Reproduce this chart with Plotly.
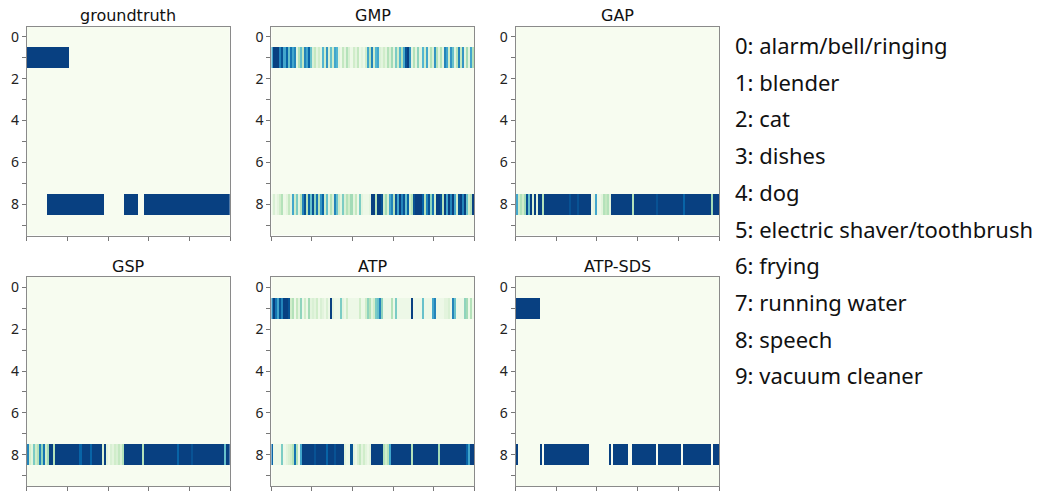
import numpy as np
import plotly.graph_objects as go

# Sound event classes (rows of every activity map)
CLASSES = [
    "alarm/bell/ringing", "blender", "cat", "dishes", "dog",
    "electric shaver/toothbrush", "frying", "running water", "speech",
    "vacuum cleaner",
]
N_FRAMES = 100
ROW_TICKS = [0, 1, 2, 3, 4, 5, 6, 7, 8, 9]
ROW_TICK_TEXT = ["0", "", "2", "", "4", "", "6", "", "8", ""]

# Reference labels as active segments: (class index, first frame, last frame)
groundtruth_segments = [(1, 0, 20), (8, 10, 37), (8, 48, 54), (8, 58, 99)]
atp_sds_segments = [(1, 0, 11), (8, 0, 0), (8, 12, 12), (8, 14, 35), (8, 46, 46),
                    (8, 48, 54), (8, 57, 68), (8, 70, 80), (8, 82, 95), (8, 97, 99)]

# Frame-wise class probabilities of the pooling models
gmp_blender = [0.6, 0.9, 0.95, 0.9, 0.7, 0.85, 0.6, 0.8, 0.5, 0.75,
               0.6, 0.7, 0.1, 0.3, 0.5, 0.25, 0.7, 0.6, 0.8, 0.5,
               0.15, 0.25, 0.1, 0.2, 0.1, 0.55, 0.2, 0.65, 0.15, 0.5,
               0.2, 0.6, 0.55, 0.1, 0.05, 0.25, 0.1, 0.3, 0.15, 0.05,
               0.2, 0.1, 0.25, 0.05, 0.1, 0.05, 0.2, 0.6, 0.3, 0.7,
               0.2, 0.55, 0.6, 0.15, 0.1, 0.2, 0.1, 0.3, 0.15, 0.35,
               0.1, 0.45, 0.2, 0.55, 0.3, 0.6, 0.85, 0.9, 0.65, 0.1,
               0.3, 0.1, 0.4, 0.1, 0.55, 0.2, 0.6, 0.1, 0.3, 0.15,
               0.65, 0.3, 0.1, 0.3, 0.1, 0.7, 0.6, 0.2, 0.65, 0.5,
               0.1, 0.3, 0.7, 0.25, 0.65, 0.1, 0.35, 0.1, 0.6, 0.3]
gmp_speech = [0.05, 0.15, 0.05, 0.1, 0.2, 0.3, 0.05, 0.1, 0.25, 0.1,
              0.6, 0.2, 0.45, 0.1, 0.3, 0.7, 0.85, 0.3, 0.8, 0.5,
              0.85, 0.4, 0.75, 0.3, 0.65, 0.8, 0.2, 0.5, 0.1, 0.3,
              0.15, 0.7, 0.5, 0.2, 0.1, 0.45, 0.15, 0.3, 0.2, 0.35,
              0.1, 0.25, 0.05, 0.45, 0.1, 0.05, 0.05, 0.05, 0.1, 0.95,
              0.95, 0.3, 0.9, 0.95, 0.85, 0.2, 0.35, 0.15, 0.6, 0.7,
              0.3, 0.85, 0.6, 0.9, 0.7, 0.85, 0.5, 0.8, 0.2, 0.3,
              0.85, 0.95, 0.9, 0.95, 0.8, 0.3, 0.7, 0.85, 0.4, 0.75,
              0.2, 0.9, 0.95, 0.85, 0.3, 0.9, 0.6, 0.9, 0.7, 0.95,
              0.6, 0.2, 0.85, 0.95, 0.7, 0.9, 0.5, 0.2, 0.3, 0.95]
gap_speech = [0.6, 0.2, 0.3, 0.2, 0.35, 0.85, 0.5, 0.95, 0.15, 0.9,
              0.1, 0.95, 0.95, 0.3, 0.95, 0.95, 0.95, 0.95, 0.95, 0.95,
              0.95, 0.95, 0.95, 0.95, 0.95, 0.95, 0.85, 0.95, 0.95, 0.95,
              0.85, 0.95, 0.95, 0.95, 0.95, 0.95, 0.95, 0.05, 0.1, 0.6,
              0.05, 0.05, 0.1, 0.3, 0.25, 0.3, 0.1, 0.95, 0.95, 0.95,
              0.95, 0.95, 0.95, 0.95, 0.95, 0.95, 0.95, 0.3, 0.95, 0.95,
              0.95, 0.95, 0.95, 0.95, 0.95, 0.95, 0.95, 0.95, 0.95, 0.85,
              0.95, 0.95, 0.95, 0.95, 0.95, 0.95, 0.95, 0.95, 0.95, 0.95,
              0.95, 0.95, 0.8, 0.95, 0.95, 0.95, 0.95, 0.95, 0.95, 0.95,
              0.95, 0.95, 0.95, 0.95, 0.95, 0.95, 0.35, 0.95, 0.95, 0.95]
gsp_speech = [0.7, 0.2, 0.1, 0.45, 0.2, 0.3, 0.7, 0.4, 0.75, 0.2,
              0.35, 0.95, 0.9, 0.3, 0.95, 0.95, 0.95, 0.95, 0.95, 0.95,
              0.95, 0.95, 0.95, 0.95, 0.95, 0.95, 0.8, 0.95, 0.95, 0.95,
              0.95, 0.8, 0.95, 0.95, 0.95, 0.95, 0.95, 0.15, 0.9, 0.1,
              0.05, 0.15, 0.1, 0.2, 0.15, 0.25, 0.15, 0.3, 0.95, 0.95,
              0.95, 0.95, 0.95, 0.95, 0.95, 0.95, 0.95, 0.3, 0.95, 0.95,
              0.95, 0.95, 0.95, 0.95, 0.95, 0.95, 0.95, 0.95, 0.95, 0.95,
              0.95, 0.95, 0.95, 0.95, 0.8, 0.95, 0.95, 0.95, 0.95, 0.95,
              0.95, 0.85, 0.95, 0.95, 0.95, 0.95, 0.95, 0.95, 0.95, 0.95,
              0.95, 0.95, 0.95, 0.95, 0.95, 0.95, 0.95, 0.5, 0.95, 0.95]
atp_blender = [0.7, 0.9, 0.75, 0.6, 0.85, 0.7, 0.9, 0.95, 0.85, 0.2,
               0.3, 0.05, 0.25, 0.1, 0.4, 0.05, 0.2, 0.05, 0.35, 0.1,
               0.15, 0.1, 0.2, 0.05, 0.15, 0.1, 0.05, 0.15, 0.05, 0.95,
               0.1, 0.05, 0.05, 0.05, 0.45, 0.1, 0.05, 0.2, 0.05, 0.05,
               0.05, 0.05, 0.05, 0.2, 0.05, 0.05, 0.2, 0.4, 0.3, 0.1,
               0.2, 0.45, 0.5, 0.7, 0.4, 0.05, 0.05, 0.05, 0.05, 0.3,
               0.05, 0.45, 0.05, 0.05, 0.05, 0.05, 0.05, 0.05, 0.05, 0.95,
               0.05, 0.05, 0.05, 0.05, 0.5, 0.05, 0.05, 0.05, 0.05, 0.6,
               0.7, 0.05, 0.05, 0.05, 0.05, 0.1, 0.1, 0.15, 0.05, 0.7,
               0.5, 0.05, 0.05, 0.05, 0.05, 0.4, 0.35, 0.05, 0.3, 0.05]
atp_speech = [0.8, 0.05, 0.05, 0.05, 0.05, 0.45, 0.05, 0.1, 0.15, 0.2,
              0.3, 0.75, 0.3, 0.05, 0.6, 0.95, 0.9, 0.95, 0.95, 0.95,
              0.95, 0.85, 0.95, 0.95, 0.95, 0.95, 0.95, 0.8, 0.95, 0.95,
              0.95, 0.85, 0.95, 0.95, 0.95, 0.95, 0.1, 0.05, 0.05, 0.85,
              0.1, 0.05, 0.15, 0.25, 0.1, 0.2, 0.1, 0.05, 0.1, 0.95,
              0.95, 0.95, 0.95, 0.95, 0.95, 0.3, 0.2, 0.3, 0.6, 0.95,
              0.95, 0.95, 0.95, 0.95, 0.95, 0.95, 0.95, 0.95, 0.95, 0.3,
              0.95, 0.95, 0.95, 0.95, 0.95, 0.95, 0.95, 0.95, 0.95, 0.95,
              0.95, 0.95, 0.35, 0.95, 0.95, 0.95, 0.95, 0.95, 0.95, 0.95,
              0.95, 0.95, 0.95, 0.95, 0.95, 0.95, 0.8, 0.6, 0.95, 0.95]


def from_segments(segments):
    grid = np.zeros((len(CLASSES), N_FRAMES))
    for cls, start, end in segments:
        grid[cls, start:end + 1] = 1.0
    return grid


def from_rows(rows):
    grid = np.zeros((len(CLASSES), N_FRAMES))
    for cls, values in rows.items():
        grid[cls, :] = values
    return grid


panels = [
    ("groundtruth", from_segments(groundtruth_segments)),
    ("GMP", from_rows({1: gmp_blender, 8: gmp_speech})),
    ("GAP", from_rows({8: gap_speech})),
    ("GSP", from_rows({8: gsp_speech})),
    ("ATP", from_rows({1: atp_blender, 8: atp_speech})),
    ("ATP-SDS", from_segments(atp_sds_segments)),
]

W, H = 1040, 494
col_px = [(26.7, 230.0), (271.3, 474.3), (515.5, 719.0)]
row_px = [(26.5, 235.5), (277.0, 486.0)]
title_px = [15.0, 266.5]

fig = go.Figure()
annotations = []
layout_axes = {}
for i, (name, grid) in enumerate(panels):
    r, c = divmod(i, 3)
    ax = "" if i == 0 else str(i + 1)
    x0, x1 = col_px[c]
    y0, y1 = row_px[r]
    fig.add_trace(go.Heatmap(
        z=grid, x=np.arange(N_FRAMES), y=np.arange(len(CLASSES)),
        colorscale="GnBu", zmin=0, zmax=0.9, showscale=False,
        xaxis="x" + ax, yaxis="y" + ax, hoverinfo="skip",
    ))
    layout_axes["xaxis" + ax] = dict(
        domain=[x0 / W, x1 / W], anchor="y" + ax,
        range=[-0.5, N_FRAMES - 0.5],
        tickvals=[-0.5 + k * N_FRAMES / 5 for k in range(6)],
        showticklabels=False, ticks="outside", ticklen=4, tickcolor="#777",
        showline=True, mirror=True, linecolor="#8a8a8a", linewidth=1,
        showgrid=False, zeroline=False, fixedrange=True,
    )
    layout_axes["yaxis" + ax] = dict(
        domain=[1 - y1 / H, 1 - y0 / H], anchor="x" + ax,
        range=[len(CLASSES) - 0.5, -0.5],
        tickvals=ROW_TICKS, ticktext=ROW_TICK_TEXT,
        ticks="outside", ticklen=4, tickcolor="#777",
        tickfont=dict(family="Noto Sans", size=14, color="#222"),
        showline=True, mirror=True, linecolor="#8a8a8a", linewidth=1,
        showgrid=False, zeroline=False, fixedrange=True,
    )
    annotations.append(dict(
        text=name, x=(x0 + x1) / 2 / W, y=1 - title_px[r] / H,
        xref="paper", yref="paper", xanchor="center", yanchor="middle",
        showarrow=False, font=dict(family="DejaVu Sans", size=16, color="#111"),
    ))

# Class index key on the right
for k, label in enumerate(CLASSES):
    annotations.append(dict(
        text=f"{k}: {label}", x=733 / W, y=1 - (45 + 36.7 * k) / H,
        xref="paper", yref="paper", xanchor="left", yanchor="middle",
        showarrow=False, font=dict(family="Noto Sans", size=22, color="#111"),
    ))

fig.update_layout(
    width=W, height=H, margin=dict(l=0, r=0, t=0, b=0),
    paper_bgcolor="white", plot_bgcolor="white",
    annotations=annotations, **layout_axes,
)
fig.write_html("out.html")
